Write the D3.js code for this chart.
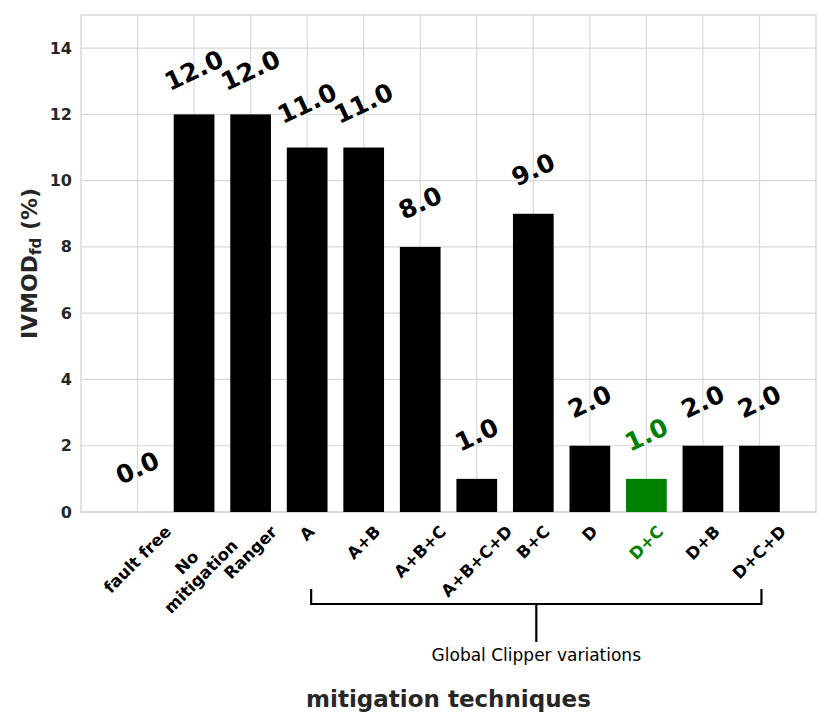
<!DOCTYPE html>
<html>
<head>
<meta charset="utf-8">
<script src="https://cdn.jsdelivr.net/npm/d3@7"></script>
<style>
  body { margin: 0; background: #fff; }
  text { font-family: "DejaVu Sans", sans-serif; }
</style>
</head>
<body>
<script>
// categories along x, and IVMOD_fd values (%)
var categories = ["fault free", "No\nmitigation", "Ranger", "A", "A+B", "A+B+C",
    "A+B+C+D", "B+C", "D", "D+C", "D+B", "D+C+D"];
var values = [0, 12, 12, 11, 11, 8, 1, 9, 2, 1, 2, 2];
var highlight = "D+C";
var yTicks = [0, 2, 4, 6, 8, 10, 12, 14];

var width = 830;
var height = 727;

var margin = { left: 81, right: 14, top: 15, bottom: 215 };

var svg = d3.select("body").append("svg")
    .attr("width", width)
    .attr("height", height);

var x = d3.scaleLinear()
    .domain([-1, categories.length])
    .range([margin.left, width - margin.right]);

var y = d3.scaleLinear()
    .domain([0, 15])
    .range([height - margin.bottom, margin.top]);

var barW = (x(1) - x(0)) * 0.72;
var colorOf = function (c) { return c === highlight ? "#008000" : "#000"; };

// grid
var grid = svg.append("g");
grid.selectAll("line.h")
    .data(yTicks)
    .enter().append("line")
    .attr("x1", x.range()[0]).attr("x2", x.range()[1])
    .attr("y1", d => y(d)).attr("y2", d => y(d))
    .attr("stroke", "#d9d9d9").attr("stroke-width", 1.2);
grid.selectAll("line.v")
    .data(categories)
    .enter().append("line")
    .attr("x1", (d, i) => x(i)).attr("x2", (d, i) => x(i))
    .attr("y1", y.range()[0]).attr("y2", y.range()[1])
    .attr("stroke", "#d9d9d9").attr("stroke-width", 1.2);

svg.append("rect")
    .attr("x", x.range()[0]).attr("y", y.range()[1])
    .attr("width", x.range()[1] - x.range()[0])
    .attr("height", y.range()[0] - y.range()[1])
    .attr("fill", "none").attr("stroke", "#d0d0d0").attr("stroke-width", 1.2);

// bars
svg.selectAll("rect.bar")
    .data(values)
    .enter().append("rect")
    .attr("class", "bar")
    .attr("x", (d, i) => x(i) - barW / 2)
    .attr("y", d => y(d))
    .attr("width", barW)
    .attr("height", d => y(0) - y(d))
    .attr("fill", (d, i) => colorOf(categories[i]));

// value labels
svg.selectAll("text.val")
    .data(values)
    .enter().append("text")
    .attr("class", "val")
    .attr("transform", (d, i) => `translate(${x(i)} ${y(d) - 44}) rotate(-25)`)
    .attr("text-anchor", "middle")
    .attr("dominant-baseline", "central")
    .attr("font-size", 25)
    .attr("font-weight", "bold")
    .attr("fill", (d, i) => colorOf(categories[i]))
    .text(d => d.toFixed(1));

// y axis tick labels
svg.selectAll("text.ytick")
    .data(yTicks)
    .enter().append("text")
    .attr("x", x.range()[0] - 9)
    .attr("y", d => y(d))
    .attr("text-anchor", "end")
    .attr("dominant-baseline", "central")
    .attr("font-size", 16)
    .attr("font-weight", "bold")
    .attr("fill", "#262626")
    .text(d => d);

// x tick labels, rotated 45, bbox centred on the tick
var xl = svg.selectAll("g.xtick")
    .data(categories)
    .enter().append("g")
    .attr("class", "xtick");

xl.each(function (d, i) {
    var g = d3.select(this);
    var lines = d.split("\n");
    var t = g.append("text")
        .attr("text-anchor", "middle")
        .attr("font-size", 16.5)
        .attr("font-weight", "bold")
        .attr("fill", colorOf(d));
    lines.forEach(function (s, k) {
        t.append("tspan")
            .attr("x", 0)
            .attr("dy", k === 0 ? 0 : "1.2em")
            .text(s);
    });
    var b = t.node().getBBox();
    var cy = b.y + b.height / 2;
    t.attr("transform", `translate(0 ${-cy})`);
    var half = (b.width + b.height) * Math.SQRT1_2 / 2;
    g.attr("transform", `translate(${x(i)} ${y(0) + 10 + half}) rotate(-45)`);
});

// bracket over the Global Clipper variations
var bx0 = x(categories.indexOf("A")) + 4;
var bx1 = x(categories.indexOf("D+C+D")) + 2;
var by = 604;
var bmid = (bx0 + bx1) / 2;
svg.append("path")
    .attr("d", `M${bx0},${by - 15}V${by}H${bx1}V${by - 15}M${bmid},${by}V${by + 38}`)
    .attr("fill", "none")
    .attr("stroke", "#000")
    .attr("stroke-width", 2.2);

svg.append("text")
    .attr("x", bmid)
    .attr("y", 661)
    .attr("text-anchor", "middle")
    .attr("font-size", 17)
    .attr("fill", "#000")
    .text("Global Clipper variations");

// axis titles
svg.append("text")
    .attr("x", (x.range()[0] + x.range()[1]) / 2)
    .attr("y", 707)
    .attr("text-anchor", "middle")
    .attr("font-size", 23)
    .attr("font-weight", "bold")
    .attr("fill", "#262626")
    .text("mitigation techniques");

var yl = svg.append("text")
    .attr("transform", `translate(37 ${(y.range()[0] + y.range()[1]) / 2}) rotate(-90)`)
    .attr("text-anchor", "middle")
    .attr("font-size", 22)
    .attr("font-weight", "bold")
    .attr("fill", "#262626");
yl.append("tspan").text("IVMOD");
yl.append("tspan").attr("font-size", 15).attr("dy", 4).text("fd");
yl.append("tspan").attr("dy", -4).text(" (%)");
</script>
</body>
</html>
